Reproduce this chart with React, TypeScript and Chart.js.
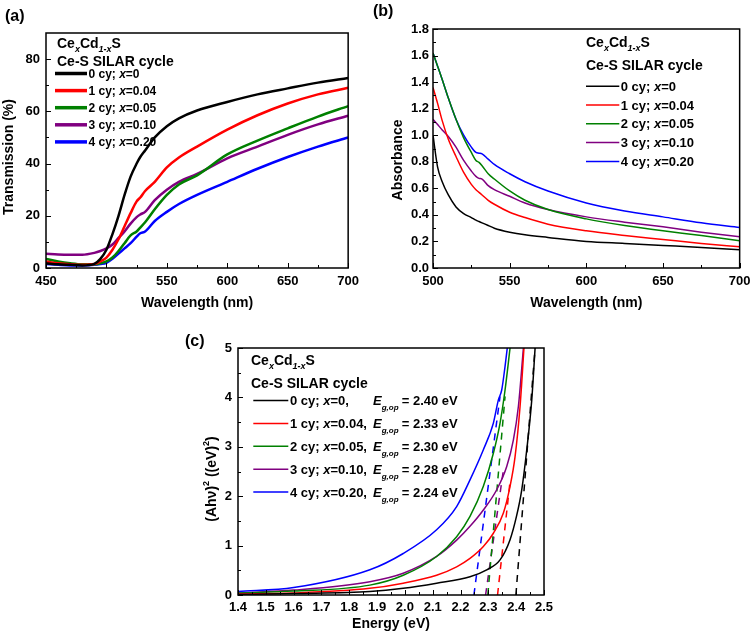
import React, { useEffect, useRef } from 'react';
import { Chart, registerables } from 'chart.js';
Chart.register(...registerables);

const FONT = 'Arial, "Liberation Sans", Helvetica, sans-serif';

// ---------- shared legend data ----------
const seriesColors = ['#000000', '#ff0000', '#008000', '#800080', '#0000ff'];
const cycles = ['0', '1', '2', '3', '4'];
const xContents = ['0', '0.04', '0.05', '0.10', '0.20'];
const egValues = ['2.40', '2.33', '2.30', '2.28', '2.24'];

// ---------- panel (a): transmission ----------
const wlA = [450, 460, 470, 480, 490, 495, 500, 505, 510, 515, 520, 525, 528, 532, 540, 550, 560, 575, 600, 625, 650, 675, 700];
const transCy0 = [1.8, 1.4, 1.2, 1.0, 1.6, 3.5, 7, 13, 20, 28, 35, 40, 42.5, 45, 50, 54.3, 57.3, 60.3, 63.6, 66.5, 68.8, 71, 72.8];
const transCy1 = [2.5, 1.8, 1.4, 1.2, 1.5, 2.5, 4, 7, 11, 16, 21, 25.5, 27, 29.5, 33, 38.5, 42.3, 46.5, 53, 58.5, 63, 66.5, 69];
const transCy2 = [3.5, 2.5, 1.8, 1.4, 1.4, 1.8, 2.5, 4, 6.5, 9.5, 12.5, 14, 15.5, 17.5, 22.5, 28, 32, 35.5, 43.5, 48.8, 53.5, 58, 62];
const transCy3 = [5.5, 5.2, 5.1, 5.1, 5.8, 6.5, 7.5, 9, 11.5, 14, 17, 19.5, 20.5, 21.5, 26, 30, 33, 36, 42, 46.5, 51, 55, 58.3];
const transCy4 = [1.5, 1.2, 1.0, 1.0, 1.2, 1.5, 2, 3.5, 5.5, 7.5, 9.5, 12, 13.3, 14, 18, 21.5, 24.5, 28, 33, 38, 42.5, 46.5, 50];
const aXTicks = [450, 500, 550, 600, 650, 700];
const aYTicks = [0, 20, 40, 60, 80];

// ---------- panel (b): absorbance ----------
const wlB = [500, 503, 506, 510, 515, 520, 525, 528, 530, 532, 536, 540, 550, 560, 575, 600, 625, 650, 675, 700];
const absCy0 = [1.0, 0.76, 0.65, 0.55, 0.46, 0.41, 0.38, 0.36, 0.35, 0.34, 0.32, 0.30, 0.27, 0.25, 0.23, 0.20, 0.185, 0.17, 0.155, 0.138];
const absCy1 = [1.36, 1.24, 1.11, 0.97, 0.84, 0.72, 0.63, 0.59, 0.57, 0.55, 0.51, 0.48, 0.42, 0.38, 0.33, 0.28, 0.245, 0.215, 0.185, 0.16];
const absCy2 = [1.62, 1.52, 1.42, 1.28, 1.12, 0.98, 0.87, 0.81, 0.795, 0.77, 0.71, 0.67, 0.58, 0.51, 0.44, 0.37, 0.32, 0.28, 0.245, 0.205];
const absCy3 = [1.12, 1.08, 1.04, 0.99, 0.91, 0.81, 0.73, 0.69, 0.675, 0.67, 0.62, 0.59, 0.54, 0.49, 0.44, 0.385, 0.345, 0.31, 0.27, 0.235];
const absCy4 = [1.62, 1.52, 1.42, 1.28, 1.12, 1.0, 0.91, 0.87, 0.865, 0.86, 0.82, 0.78, 0.71, 0.65, 0.58, 0.49, 0.43, 0.385, 0.34, 0.305];
const bXTicks = [500, 550, 600, 650, 700];
const bYTicks = [0, 0.2, 0.4, 0.6, 0.8, 1.0, 1.2, 1.4, 1.6, 1.8];

// ---------- panel (c): Tauc plot ----------
const tauc0E = [1.4, 1.6, 1.874, 1.994, 2.114, 2.234, 2.294, 2.342, 2.378, 2.401, 2.42, 2.438, 2.456, 2.468];
const tauc0Y = [0.01, 0.03, 0.07, 0.135, 0.24, 0.37, 0.51, 0.71, 1.12, 1.59, 2.13, 2.94, 3.95, 5.0];
const tauc1E = [1.4, 1.6, 1.874, 1.994, 2.114, 2.186, 2.234, 2.282, 2.318, 2.354, 2.378, 2.396, 2.414, 2.428];
const tauc1Y = [0.02, 0.04, 0.135, 0.24, 0.40, 0.57, 0.74, 0.98, 1.25, 1.66, 2.2, 2.8, 3.82, 5.0];
const tauc2E = [1.4, 1.6, 1.874, 1.994, 2.114, 2.186, 2.234, 2.282, 2.318, 2.342, 2.36, 2.378];
const tauc2Y = [0.04, 0.08, 0.2, 0.40, 0.78, 1.18, 1.59, 2.2, 2.87, 3.48, 4.15, 5.0];
const tauc3E = [1.4, 1.6, 1.874, 1.994, 2.114, 2.186, 2.234, 2.282, 2.33, 2.366, 2.39, 2.408, 2.426];
const tauc3Y = [0.04, 0.1, 0.27, 0.44, 0.78, 1.11, 1.39, 1.72, 2.13, 2.6, 3.14, 3.82, 5.0];
const tauc4E = [1.4, 1.6, 1.874, 1.994, 2.114, 2.186, 2.234, 2.282, 2.318, 2.336, 2.348, 2.36, 2.368];
const tauc4Y = [0.07, 0.15, 0.51, 0.84, 1.32, 1.79, 2.33, 2.94, 3.48, 3.95, 4.15, 4.63, 5.0];
// linear extrapolations (dashed)
const fit0E = [2.399, 2.468];
const fit0Y = [0, 5.0];
const fit1E = [2.333, 2.378];
const fit1Y = [0, 2.3];
const fit2E = [2.298, 2.36];
const fit2Y = [0, 4.02];
const fit3E = [2.29, 2.354];
const fit3Y = [0, 2.53];
const fit4E = [2.248, 2.342];
const fit4Y = [0, 4.02];
const cXTicks = [1.4, 1.5, 1.6, 1.7, 1.8, 1.9, 2.0, 2.1, 2.2, 2.3, 2.4, 2.5];
const cYTicks = [0, 1, 2, 3, 4, 5];

// ---------- helpers ----------
type Run = { t: string; size: number; italic?: boolean; dy?: number };
const fontStr = (size: number, italic?: boolean) => `${italic ? 'italic ' : ''}bold ${size}px ${FONT}`;

function runsWidth(ctx: CanvasRenderingContext2D, runs: Run[]) {
  let w = 0;
  for (const r of runs) {
    ctx.font = fontStr(r.size, r.italic);
    w += ctx.measureText(r.t).width;
  }
  return w;
}
function drawRuns(ctx: CanvasRenderingContext2D, x: number, y: number, runs: Run[]) {
  let cx = x;
  for (const r of runs) {
    ctx.font = fontStr(r.size, r.italic);
    ctx.fillText(r.t, cx, y + (r.dy || 0));
    cx += ctx.measureText(r.t).width;
  }
  return cx;
}

function line(label: string, xs: number[], ys: number[], color: string, width: number, dash?: number[]) {
  return {
    label,
    data: xs.map((x, i) => ({ x, y: ys[i] })),
    borderColor: color,
    backgroundColor: color,
    borderWidth: width,
    borderDash: dash || [],
    pointRadius: 0,
    fill: false,
    cubicInterpolationMode: dash ? 'default' : 'monotone',
  };
}

type LegendCfg = {
  x: number; formulaBase: number; titleBase: number; row0: number; rowStep: number;
  lineX0: number; lineX1: number; textX: number; size: number; lineWidth: number;
  eColX?: number; eqColX?: number;
};
type DecorCfg = {
  label: string; labelX: number; labelY: number;
  yTitle: Run[]; yTitleX: number; yTitleY: number;
  legend: LegendCfg;
};

function makeDecor(cfg: DecorCfg) {
  return {
    id: 'decor',
    afterDraw(chart: any) {
      const ctx: CanvasRenderingContext2D = chart.ctx;
      const { left, right, top, bottom } = chart.chartArea;
      const xs = chart.scales.x;
      const ys = chart.scales.y;
      ctx.save();
      // inward ticks
      ctx.strokeStyle = '#000';
      ctx.lineWidth = 1;
      ctx.beginPath();
      const xv: number[] = xs.ticks.map((t: any) => t.value);
      xv.forEach((v, i) => {
        const p = Math.round(xs.getPixelForValue(v)) + 0.5;
        ctx.moveTo(p, bottom); ctx.lineTo(p, bottom - 5);
        if (i < xv.length - 1) {
          const m = Math.round(xs.getPixelForValue((v + xv[i + 1]) / 2)) + 0.5;
          ctx.moveTo(m, bottom); ctx.lineTo(m, bottom - 3);
        }
      });
      const yv: number[] = ys.ticks.map((t: any) => t.value);
      yv.forEach((v, i) => {
        const p = Math.round(ys.getPixelForValue(v)) + 0.5;
        ctx.moveTo(left, p); ctx.lineTo(left + 5, p);
        if (i < yv.length - 1) {
          const m = Math.round(ys.getPixelForValue((v + yv[i + 1]) / 2)) + 0.5;
          ctx.moveTo(left, m); ctx.lineTo(left + 3, m);
        }
      });
      ctx.stroke();
      // frame
      ctx.lineWidth = 1.5;
      ctx.strokeRect(left, top, right - left, bottom - top);

      ctx.fillStyle = '#000';
      ctx.textAlign = 'left';
      // panel label
      ctx.textBaseline = 'middle';
      ctx.font = fontStr(16);
      ctx.fillText(cfg.label, cfg.labelX, cfg.labelY);

      // y title (rotated)
      ctx.textBaseline = 'middle';
      ctx.save();
      ctx.translate(cfg.yTitleX, cfg.yTitleY);
      ctx.rotate(-Math.PI / 2);
      const w = runsWidth(ctx, cfg.yTitle);
      drawRuns(ctx, -w / 2, 0, cfg.yTitle);
      ctx.restore();

      // legend
      const L = cfg.legend;
      ctx.textBaseline = 'alphabetic';
      drawRuns(ctx, L.x, L.formulaBase, [
        { t: 'Ce', size: 14 },
        { t: 'x', size: 9, italic: true, dy: 4 },
        { t: 'Cd', size: 14 },
        { t: '1-x', size: 9, italic: true, dy: 4 },
        { t: 'S', size: 14 },
      ]);
      drawRuns(ctx, L.x, L.titleBase, [{ t: 'Ce-S SILAR cycle', size: 14 }]);
      for (let i = 0; i < cycles.length; i++) {
        const base = L.row0 + i * L.rowStep;
        ctx.strokeStyle = seriesColors[i];
        ctx.lineWidth = L.lineWidth;
        ctx.beginPath();
        ctx.moveTo(L.lineX0, base - 4.5);
        ctx.lineTo(L.lineX1, base - 4.5);
        ctx.stroke();
        ctx.fillStyle = '#000';
        const hasEg = L.eColX !== undefined;
        drawRuns(ctx, L.textX, base, [
          { t: `${cycles[i]} cy; `, size: L.size },
          { t: 'x', size: L.size, italic: true },
          { t: `=${xContents[i]}${hasEg ? ',' : ''}`, size: L.size },
        ]);
        if (hasEg) {
          drawRuns(ctx, L.eColX as number, base, [
            { t: 'E', size: L.size, italic: true },
            { t: 'g,op', size: 8, italic: true, dy: 5 },
          ]);
          drawRuns(ctx, L.eqColX as number, base, [{ t: `= ${egValues[i]} eV`, size: L.size }]);
        }
      }
      ctx.restore();
    },
  };
}

type PanelCfg = {
  datasets: any[];
  xMin: number; xMax: number; yMin: number; yMax: number;
  xTicks: number[]; yTicks: number[]; xDec: number; yDec: number;
  yWidth: number; xHeight: number; padTop: number; padRight: number;
  xTitle: string; xTitlePad: number; xTickPad: number; yTickPad: number;
  decor: DecorCfg;
};

function buildConfig(p: PanelCfg): any {
  const tickFont = { family: FONT, size: 13, weight: 'bold' as const };
  return {
    type: 'line',
    data: { datasets: p.datasets },
    options: {
      responsive: false,
      animation: false,
      devicePixelRatio: 1,
      layout: { padding: { left: 0, top: p.padTop, right: p.padRight, bottom: 0 } },
      plugins: { legend: { display: false }, tooltip: { enabled: false } },
      scales: {
        x: {
          type: 'linear',
          min: p.xMin,
          max: p.xMax,
          grid: { display: false, drawTicks: false },
          border: { display: false },
          afterBuildTicks: (s: any) => { s.ticks = p.xTicks.map((v) => ({ value: v })); },
          afterFit: (s: any) => { s.height = p.xHeight; },
          ticks: {
            padding: p.xTickPad,
            color: '#000',
            font: tickFont,
            maxRotation: 0,
            autoSkip: false,
            callback: (v: any) => Number(v).toFixed(p.xDec),
          },
          title: {
            display: true,
            text: p.xTitle,
            color: '#000',
            font: { family: FONT, size: 14, weight: 'bold', lineHeight: 1 },
            padding: { top: 0, bottom: p.xTitlePad },
          },
        },
        y: {
          type: 'linear',
          min: p.yMin,
          max: p.yMax,
          grid: { display: false, drawTicks: false },
          border: { display: false },
          afterBuildTicks: (s: any) => { s.ticks = p.yTicks.map((v) => ({ value: v })); },
          afterFit: (s: any) => { s.width = p.yWidth; },
          ticks: {
            padding: p.yTickPad,
            color: '#000',
            font: tickFont,
            autoSkip: false,
            callback: (v: any) => Number(v).toFixed(p.yDec),
          },
        },
      },
    },
    plugins: [makeDecor(p.decor)],
  };
}

const labelOf = (i: number) => `${cycles[i]} cy; x=${xContents[i]}`;

const configA = () =>
  buildConfig({
    datasets: [transCy0, transCy1, transCy2, transCy3, transCy4].map((ys, i) =>
      line(labelOf(i), wlA, ys, seriesColors[i], 2.5)
    ),
    xMin: 450, xMax: 700, yMin: 0, yMax: 90,
    xTicks: aXTicks, yTicks: aYTicks, xDec: 0, yDec: 0,
    yWidth: 46, xHeight: 47, padTop: 33, padRight: 5,
    xTitle: 'Wavelength (nm)', xTitlePad: 5, xTickPad: 6, yTickPad: 6,
    decor: {
      label: '(a)', labelX: 5, labelY: 17,
      yTitle: [{ t: 'Transmission (%)', size: 14 }], yTitleX: 9, yTitleY: 157,
      legend: {
        x: 57, formulaBase: 48, titleBase: 66, row0: 78, rowStep: 17.1,
        lineX0: 55, lineX1: 87, textX: 88.5, size: 12, lineWidth: 3.5,
      },
    },
  });

const configB = () =>
  buildConfig({
    datasets: [absCy0, absCy1, absCy2, absCy3, absCy4].map((ys, i) =>
      line(labelOf(i), wlB, ys, seriesColors[i], 1.5)
    ),
    xMin: 500, xMax: 700, yMin: 0, yMax: 1.8,
    xTicks: bXTicks, yTicks: bYTicks, xDec: 0, yDec: 1,
    yWidth: 68, xHeight: 47, padTop: 29, padRight: 12,
    xTitle: 'Wavelength (nm)', xTitlePad: 5, xTickPad: 5.5, yTickPad: 4,
    decor: {
      label: '(b)', labelX: 8, labelY: 12,
      yTitle: [{ t: 'Absorbance', size: 14 }], yTitleX: 33.5, yTitleY: 160,
      legend: {
        x: 221, formulaBase: 46.7, titleBase: 70, row0: 90.7, rowStep: 18.8,
        lineX0: 221, lineX1: 254.3, textX: 255.7, size: 13, lineWidth: 1.5,
      },
    },
  });

const configC = () =>
  buildConfig({
    datasets: [
      ...[
        [tauc0E, tauc0Y], [tauc1E, tauc1Y], [tauc2E, tauc2Y], [tauc3E, tauc3Y], [tauc4E, tauc4Y],
      ].map(([xs, ys], i) => line(labelOf(i), xs, ys, seriesColors[i], 1.5)),
      ...[
        [fit0E, fit0Y], [fit1E, fit1Y], [fit2E, fit2Y], [fit3E, fit3Y], [fit4E, fit4Y],
      ].map(([xs, ys], i) => line(`fit ${cycles[i]} cy`, xs, ys, seriesColors[i], 1.5, [7, 6])),
    ],
    xMin: 1.4, xMax: 2.5, yMin: 0, yMax: 5,
    xTicks: cXTicks, yTicks: cYTicks, xDec: 1, yDec: 0,
    yWidth: 58, xHeight: 37, padTop: 33, padRight: 16,
    xTitle: 'Energy (eV)', xTitlePad: 1, xTickPad: 5, yTickPad: 6,
    decor: {
      label: '(c)', labelX: 5, labelY: 26.5,
      yTitle: [
        { t: '(Ahν)', size: 14 },
        { t: '2', size: 9, dy: -6 },
        { t: ' ((eV)', size: 14 },
        { t: '2', size: 9, dy: -6 },
        { t: ')', size: 14 },
      ],
      yTitleX: 32.5, yTitleY: 164,
      legend: {
        x: 71, formulaBase: 50, titleBase: 73.3, row0: 90, rowStep: 22.9,
        lineX0: 73.3, lineX1: 108.3, textX: 110, size: 13, lineWidth: 1.5,
        eColX: 193, eqColX: 221.7,
      },
    },
  });

export default function App() {
  const refA = useRef<HTMLCanvasElement>(null);
  const refB = useRef<HTMLCanvasElement>(null);
  const refC = useRef<HTMLCanvasElement>(null);

  useEffect(() => {
    const charts = [
      new Chart(refA.current as HTMLCanvasElement, configA()),
      new Chart(refB.current as HTMLCanvasElement, configB()),
      new Chart(refC.current as HTMLCanvasElement, configC()),
    ];
    return () => charts.forEach((c) => c.destroy());
  }, []);

  return (
    <div style={{ position: 'absolute', left: 0, top: 0, width: 756, height: 632, background: '#fff', overflow: 'hidden' }}>
      <canvas ref={refA} width={365} height={315} style={{ position: 'absolute', left: 0, top: 0 }} />
      <canvas ref={refB} width={391} height={315} style={{ position: 'absolute', left: 365, top: 0 }} />
      <canvas ref={refC} width={380} height={317} style={{ position: 'absolute', left: 180, top: 315 }} />
    </div>
  );
}
